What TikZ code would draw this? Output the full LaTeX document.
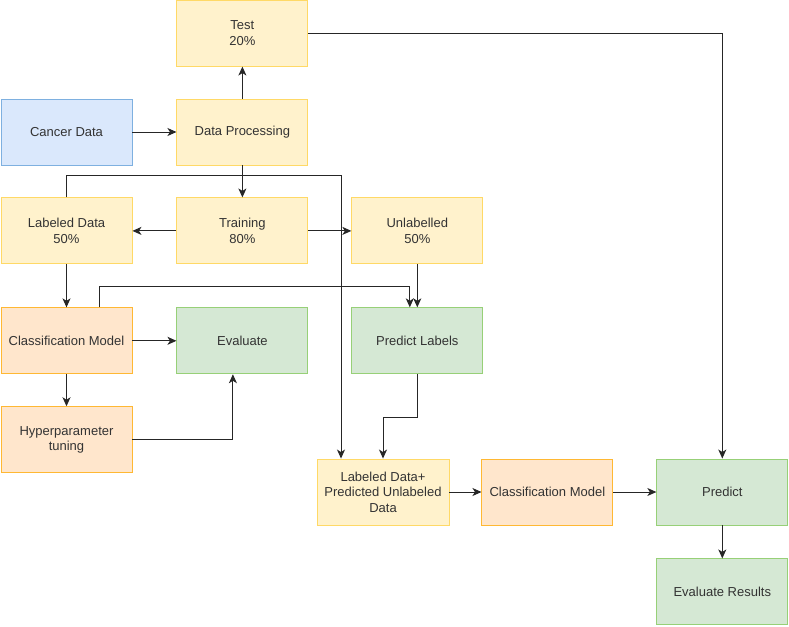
\documentclass[tikz,border=0pt]{standalone}
\usepackage{fontspec}
\setmainfont{Liberation Sans}
\usepackage{xcolor}
\usetikzlibrary{arrows.meta,positioning}
\definecolor{yfill}{HTML}{FFF2CC}
\definecolor{ydraw}{HTML}{FFD966}
\definecolor{bfill}{HTML}{DAE8FC}
\definecolor{bdraw}{HTML}{7EB0E0}
\definecolor{ofill}{HTML}{FFE6CC}
\definecolor{odraw}{HTML}{FFB833}
\definecolor{gfill}{HTML}{D5E8D4}
\definecolor{gdraw}{HTML}{97D077}
\definecolor{txt}{HTML}{333333}

\begin{document}
\begin{tikzpicture}[node distance=32pt and 44pt, every node/.style={font=\fontsize{13}{15.5}\selectfont, text=txt}, box/.style={draw, line width=0.9pt, align=center, inner sep=0pt, minimum width=131pt, minimum height=66pt}, ybox/.style={box, fill=yfill, draw=ydraw}, bbox/.style={box, fill=bfill, draw=bdraw}, obox/.style={box, fill=ofill, draw=odraw}, gbox/.style={box, fill=gfill, draw=gdraw}, arrow/.style={-{Stealth[length=9pt,width=8pt,inset=2.5pt]}, line width=1pt, draw=black!85}]
\useasboundingbox (0pt,0pt) rectangle (789pt,-626pt);
\node[bbox] (cancer) at (66.5pt,-132pt) {Cancer Data};
\node[ybox, right=of cancer] (dataproc) {Data Processing};
\node[ybox, above=of dataproc] (test) {Test\\20\%};
\node[ybox, below=of dataproc] (training) {Training\\80\%};
\node[ybox, left=of training] (labeled) {Labeled Data\\50\%};
\node[ybox, right=43pt of training] (unlabelled) {Unlabelled\\50\%};
\node[obox, below=43pt of labeled] (clsmodel) {Classification Model};
\node[gbox, right=of clsmodel] (evaluate) {Evaluate};
\node[gbox, right=43pt of evaluate] (predlabels) {Predict Labels};
\node[obox, below=of clsmodel] (hyper) {Hyperparameter\\tuning};
\node[ybox, minimum width=132pt] (merged) at (383pt,-492pt) {Labeled Data+\\Predicted Unlabeled\\Data};
\node[obox, right=32pt of merged] (clsmodeltwo) {Classification Model};
\node[gbox, right=43pt of clsmodeltwo] (predict) {Predict};
\node[gbox, below=33pt of predict] (evalres) {Evaluate Results};
\draw[arrow] (cancer)--(dataproc);
\draw[arrow] (dataproc)--(test);
\draw[arrow] (dataproc)--(training);
\draw[arrow] (training)--(labeled);
\draw[arrow] (training)--(unlabelled);
\draw[arrow] (test.east) -| (predict.north);
\draw[arrow] (labeled.north) -- ++(0,22pt) -| ([xshift=-42pt]merged.north);
\draw[arrow] (labeled)--(clsmodel);
\draw[arrow] ([xshift=32.5pt]clsmodel.north) -- ++(0,21pt) -| ([xshift=-7.5pt]predlabels.north);
\draw[arrow] (unlabelled)--(predlabels);
\draw[arrow] (clsmodel)--(evaluate);
\draw[arrow] (clsmodel)--(hyper);
\draw[arrow] (hyper.east) -| ([xshift=-9.5pt]evaluate.south);
\draw[arrow] (predlabels.south) -- ++(0,-43pt) -| (merged.north);
\draw[arrow] (merged)--(clsmodeltwo);
\draw[arrow] (clsmodeltwo)--(predict);
\draw[arrow] (predict)--(evalres);
\end{tikzpicture}
\end{document}
